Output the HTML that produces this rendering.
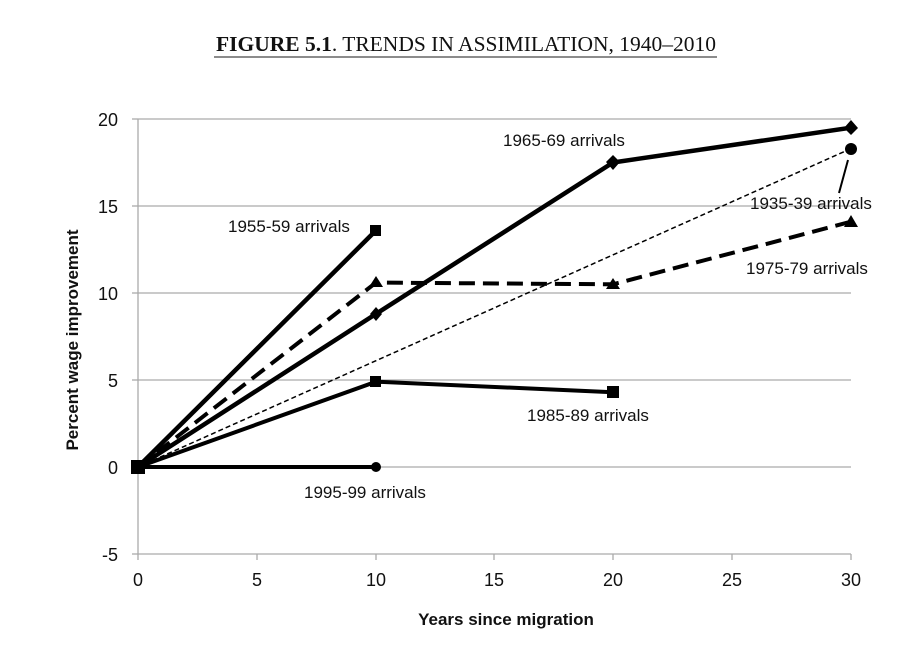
<!DOCTYPE html>
<html><head><meta charset="utf-8"><style>
body{margin:0;background:#fff;width:906px;height:649px;overflow:hidden}
</style></head><body>
<svg width="906" height="649" xmlns="http://www.w3.org/2000/svg">
<text x="466" y="51" text-anchor="middle" font-family="Liberation Serif, serif" font-size="21.5" fill="#111" textLength="500" lengthAdjust="spacingAndGlyphs"><tspan font-weight="bold">FIGURE 5.1</tspan>. TRENDS IN ASSIMILATION, 1940–2010</text>
<line x1="214" y1="57" x2="717" y2="57" stroke="#666" stroke-width="1.5"/>
<g stroke="#aaa" stroke-width="1.3">
<line x1="138" y1="119" x2="851" y2="119"/>
<line x1="138" y1="206" x2="851" y2="206"/>
<line x1="138" y1="293" x2="851" y2="293"/>
<line x1="138" y1="380" x2="851" y2="380"/>
<line x1="138" y1="467" x2="851" y2="467"/>
<line x1="138" y1="554" x2="851" y2="554"/>
<line x1="138" y1="119" x2="138" y2="560"/>
<line x1="132" y1="119" x2="138" y2="119"/><line x1="132" y1="206" x2="138" y2="206"/><line x1="132" y1="293" x2="138" y2="293"/><line x1="132" y1="380" x2="138" y2="380"/><line x1="132" y1="467" x2="138" y2="467"/><line x1="132" y1="554" x2="138" y2="554"/>
<line x1="257" y1="554" x2="257" y2="560"/><line x1="376" y1="554" x2="376" y2="560"/><line x1="494" y1="554" x2="494" y2="560"/><line x1="613" y1="554" x2="613" y2="560"/><line x1="732" y1="554" x2="732" y2="560"/><line x1="851" y1="554" x2="851" y2="560"/>
</g>
<g font-family="Liberation Sans, sans-serif" font-size="18" fill="#111">
<g text-anchor="end"><text x="118" y="126">20</text><text x="118" y="213">15</text><text x="118" y="300">10</text><text x="118" y="387">5</text><text x="118" y="474">0</text><text x="118" y="561">-5</text></g>
<g text-anchor="middle"><text x="138" y="586">0</text><text x="257" y="586">5</text><text x="376" y="586">10</text><text x="494" y="586">15</text><text x="613" y="586">20</text><text x="732" y="586">25</text><text x="851" y="586">30</text></g>
</g>
<text x="506" y="625" text-anchor="middle" font-family="Liberation Sans, sans-serif" font-weight="bold" font-size="17" fill="#111">Years since migration</text>
<text transform="translate(78,340) rotate(-90)" text-anchor="middle" font-family="Liberation Sans, sans-serif" font-weight="bold" font-size="17" fill="#111">Percent wage improvement</text>
<g fill="none" stroke="#000" stroke-linejoin="round">
<polyline points="138,467 851,148.6" stroke-width="1.5" stroke-dasharray="5,3"/>
<polyline points="138,467 376,230.4" stroke-width="4.5"/>
<polyline points="138,467 376,282.6 613,284.3 851,221.7" stroke-width="4" stroke-dasharray="16,8"/>
<polyline points="138,467 376,313.9 613,162.5 851,127.7" stroke-width="4.5"/>
<polyline points="138,467 376,381.7 613,392.2" stroke-width="4"/>
<polyline points="138,467 376,467" stroke-width="4"/>
<line x1="848" y1="160" x2="839" y2="193" stroke-width="2"/>
</g>
<g fill="#000">
<rect x="131" y="460" width="14" height="14"/>
<rect x="370" y="225" width="11" height="11"/>
<polygon points="376,276 383,287 369,287"/><polygon points="613,278 620,289 606,289"/><polygon points="851,215 858,227 844,227"/>
<polygon points="376,307 382,314 376,321 370,314"/><polygon points="613,155 620,162 613,170 606,162"/><polygon points="851,120 858,128 851,135 844,128"/>
<circle cx="851" cy="149" r="6"/>
<rect x="370" y="376" width="11" height="11"/><rect x="607" y="386" width="12" height="12"/>
<circle cx="376" cy="467" r="5"/>
</g>
<g font-family="Liberation Sans, sans-serif" font-size="17" fill="#111">
<text x="228" y="232">1955-59 arrivals</text>
<text x="503" y="146">1965-69 arrivals</text>
<text x="750" y="209">1935-39 arrivals</text>
<text x="746" y="274">1975-79 arrivals</text>
<text x="527" y="421">1985-89 arrivals</text>
<text x="304" y="498">1995-99 arrivals</text>
</g>
</svg>
</body></html>
